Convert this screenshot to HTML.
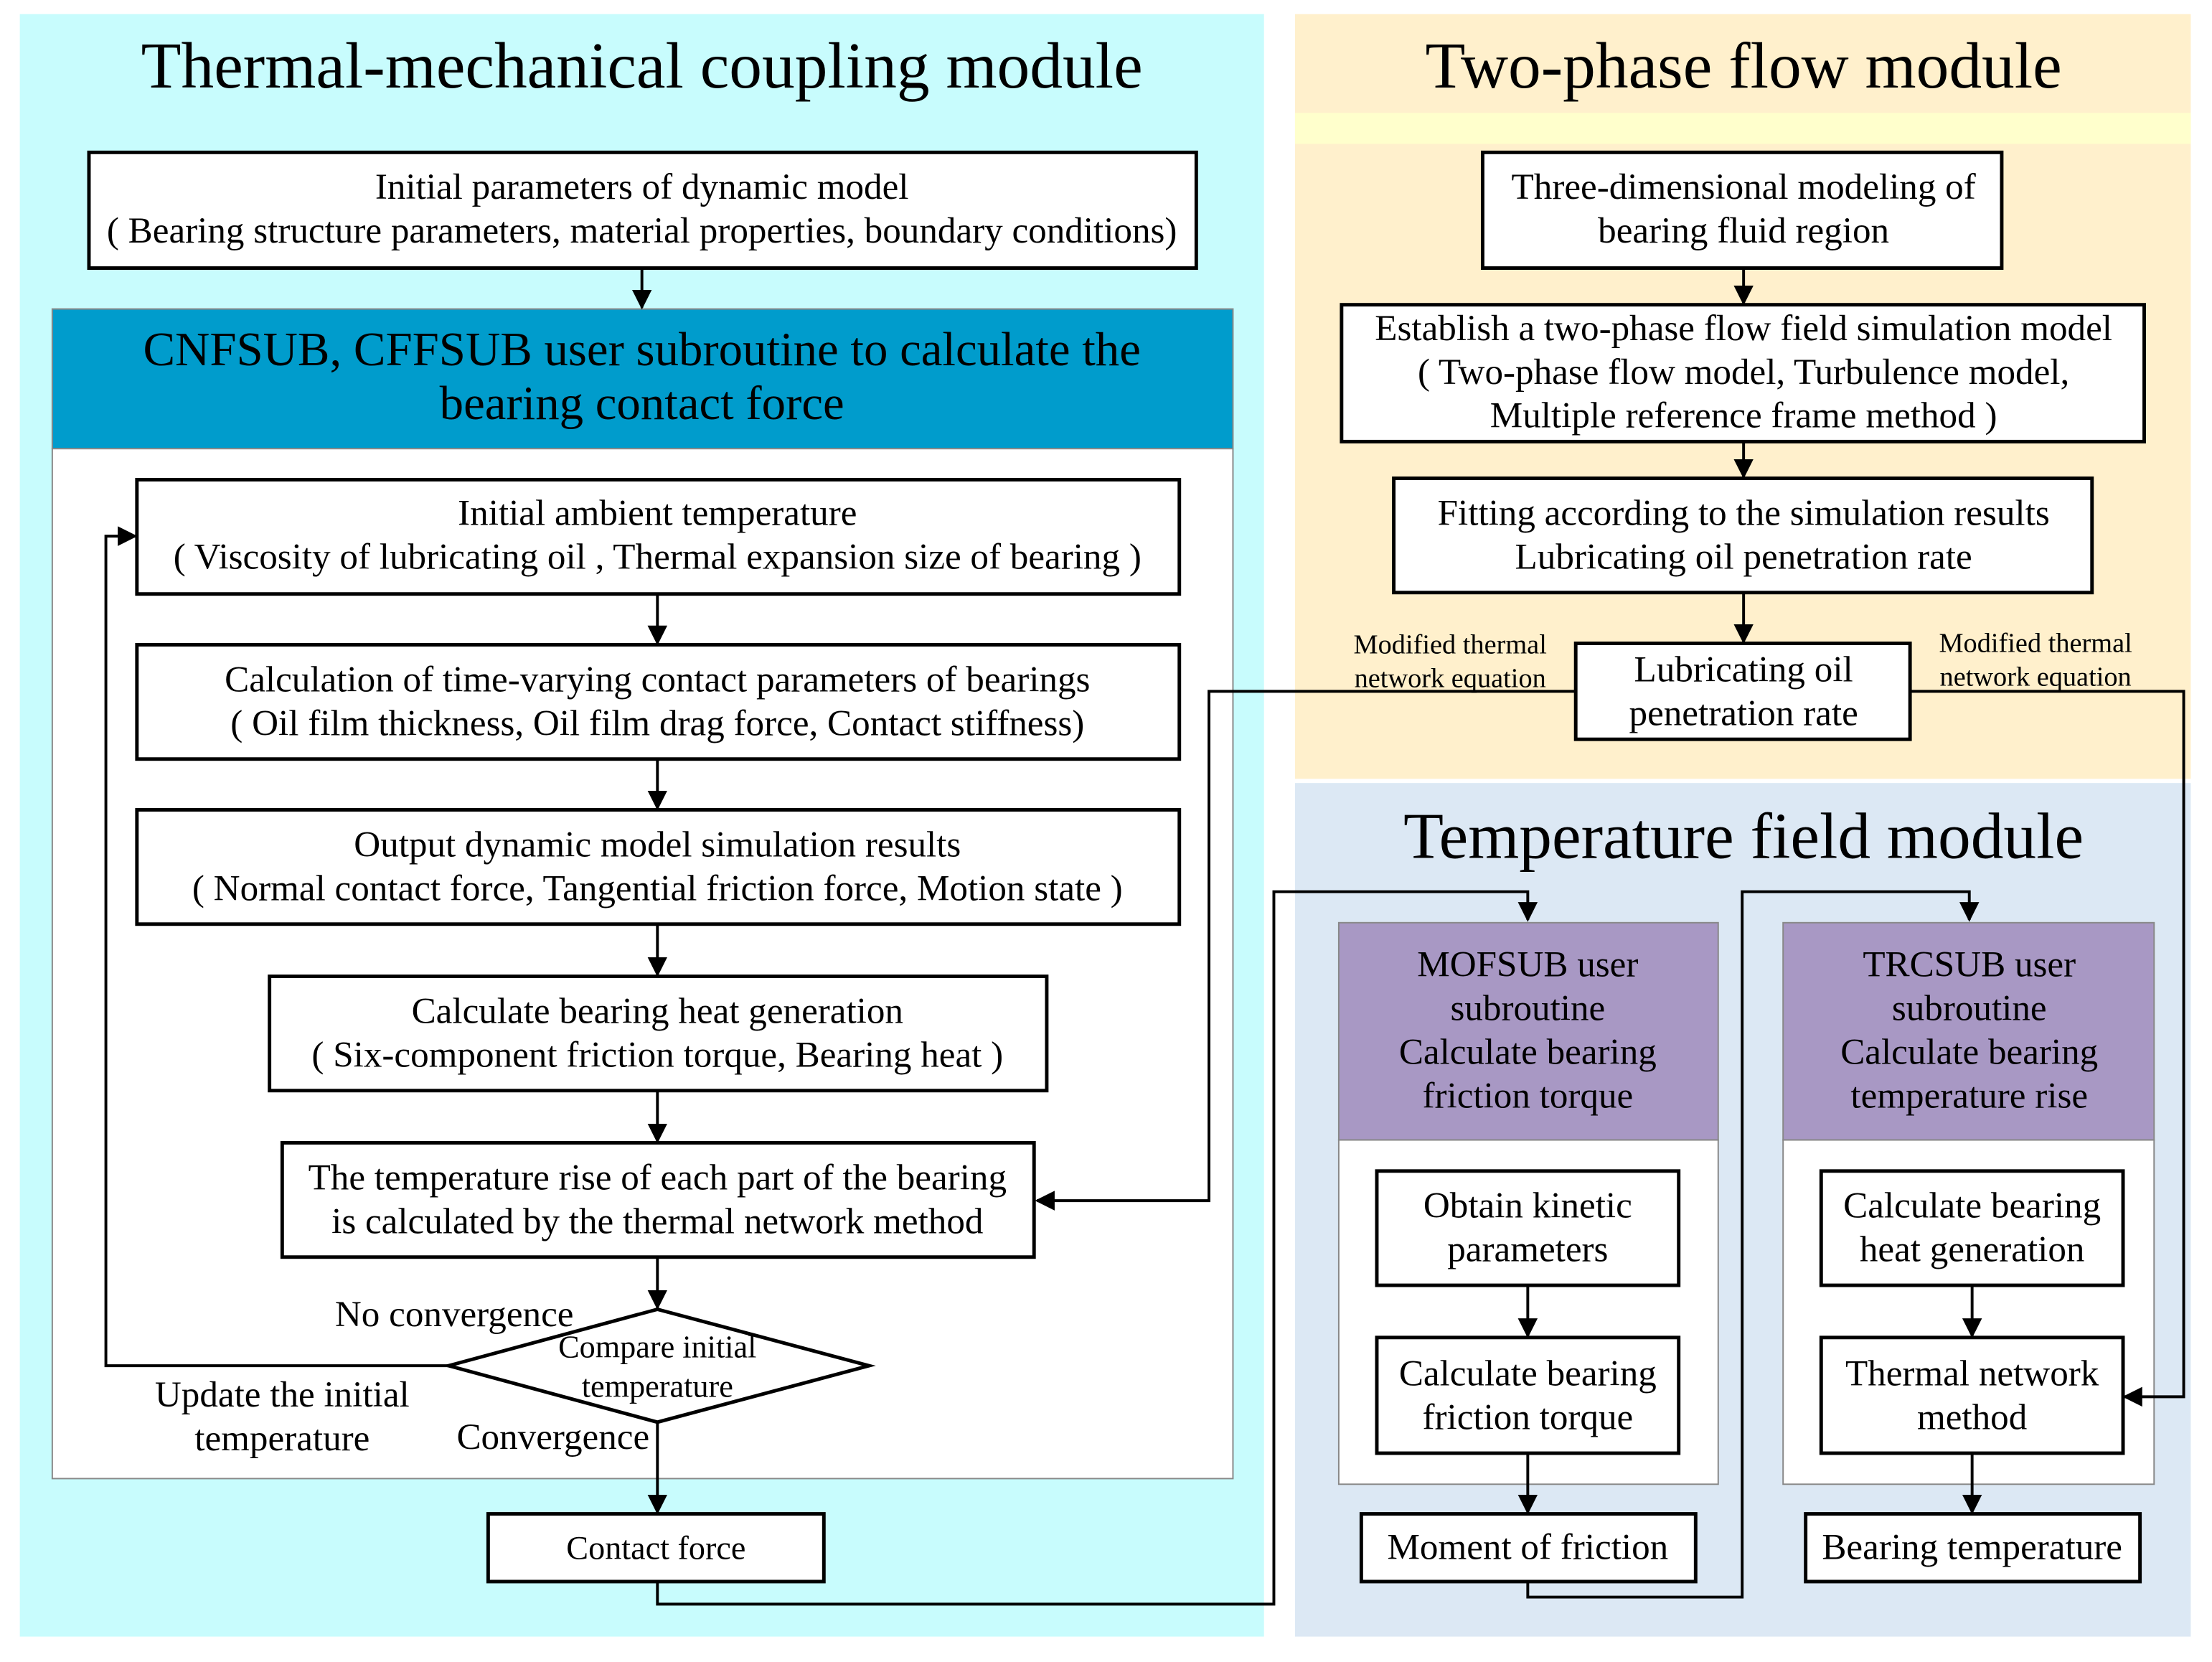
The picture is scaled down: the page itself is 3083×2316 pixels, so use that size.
<!DOCTYPE html>
<html><head><meta charset="utf-8"><style>
html,body{margin:0;padding:0;background:#fff;}
svg{display:block;}
text{font-family:"Liberation Serif",serif;fill:#000;}
</style></head><body>
<svg width="3083" height="2316" viewBox="0 0 1568 1178" xmlns="http://www.w3.org/2000/svg">
<defs><marker id="a" viewBox="0 0 10 10" refX="9" refY="5" markerWidth="14" markerHeight="14" markerUnits="userSpaceOnUse" orient="auto"><path d="M0,0L10,5L0,10z" fill="#000"/></marker></defs>
<rect width="1568" height="1178" fill="#fff"/>
<rect x="14" y="10" width="882" height="1150" fill="#c8fcfd"/>
<rect x="918" y="10" width="635" height="542" fill="#fff0cc"/>
<rect x="918" y="80" width="635" height="22" fill="#ffffcc"/>
<rect x="918" y="555" width="635" height="605" fill="#dce8f4"/>
<g text-anchor="middle">
<text x="455" y="62" font-size="46.5">Thermal-mechanical coupling module</text>
<text x="1236" y="62" font-size="46.5">Two-phase flow module</text>
<text x="1236" y="608" font-size="46.5">Temperature field module</text>
</g>
<g fill="#fff" stroke="#000" stroke-width="2.5">
<rect x="63" y="108" width="785" height="82"/>
</g>
<rect x="37" y="219" width="837" height="99" fill="#009ccc" stroke="#888" stroke-width="1"/>
<rect x="37" y="318" width="837" height="730" fill="#fff" stroke="#888" stroke-width="1"/>
<rect x="949" y="654" width="269" height="154" fill="#a898c4" stroke="#888" stroke-width="1"/>
<rect x="949" y="808" width="269" height="244" fill="#fff" stroke="#888" stroke-width="1"/>
<rect x="1264" y="654" width="263" height="154" fill="#a898c4" stroke="#888" stroke-width="1"/>
<rect x="1264" y="808" width="263" height="244" fill="#fff" stroke="#888" stroke-width="1"/>
<g fill="#fff" stroke="#000" stroke-width="2.5">
<rect x="97" y="340" width="739" height="81"/>
<rect x="97" y="457" width="739" height="81"/>
<rect x="97" y="574" width="739" height="81"/>
<rect x="191" y="692" width="551" height="81"/>
<rect x="200" y="810" width="533" height="81"/>
<polygon points="318,968 466,928 616,968 466,1008"/>
<rect x="346" y="1073" width="238" height="48"/>
<rect x="1051" y="108" width="368" height="82"/>
<rect x="951" y="216" width="569" height="97"/>
<rect x="988" y="339" width="495" height="81"/>
<rect x="1117" y="456" width="237" height="68"/>
<rect x="976" y="830" width="214" height="81"/>
<rect x="976" y="948" width="214" height="82"/>
<rect x="965" y="1073" width="237" height="48"/>
<rect x="1291" y="830" width="214" height="81"/>
<rect x="1291" y="948" width="214" height="82"/>
<rect x="1280" y="1073" width="237" height="48"/>
</g>
<g fill="none" stroke="#000" stroke-width="2" marker-end="url(#a)">
<path d="M455,190V218"/>
<path d="M466,421V456"/>
<path d="M466,538V573"/>
<path d="M466,655V691"/>
<path d="M466,773V809"/>
<path d="M466,891V927"/>
<path d="M466,1008V1072"/>
<path d="M318,968H75V380H96"/>
<path d="M466,1121V1137H903V632H1083V652"/>
<path d="M1083,1121V1132H1235V632H1396V652"/>
<path d="M1117,490H857V851H735"/>
<path d="M1354,490H1548V990H1506"/>
<path d="M1236,190V215"/>
<path d="M1236,313V338"/>
<path d="M1236,420V455"/>
<path d="M1083,911V947"/>
<path d="M1083,1030V1072"/>
<path d="M1398,911V947"/>
<path d="M1398,1030V1072"/>
</g>
<g text-anchor="middle" font-size="26">
<text x="455" y="141">Initial parameters of dynamic model</text>
<text x="455" y="172">( Bearing structure parameters, material properties, boundary conditions)</text>
<text x="455" y="259" font-size="34">CNFSUB, CFFSUB user subroutine to calculate the</text>
<text x="455" y="297" font-size="34">bearing contact force</text>
<text x="466" y="372">Initial ambient temperature</text>
<text x="466" y="403">( Viscosity of lubricating oil , Thermal expansion size of bearing )</text>
<text x="466" y="490">Calculation of time-varying contact parameters of bearings</text>
<text x="466" y="521">( Oil film thickness, Oil film drag force, Contact stiffness)</text>
<text x="466" y="607">Output dynamic model simulation results</text>
<text x="466" y="638">( Normal contact force, Tangential friction force, Motion state  )</text>
<text x="466" y="725">Calculate bearing heat generation</text>
<text x="466" y="756">( Six-component friction torque, Bearing heat )</text>
<text x="466" y="843">The temperature rise of each part of the bearing</text>
<text x="466" y="874">is calculated by the thermal network method</text>
<text x="466" y="962" font-size="22.5">Compare initial</text>
<text x="466" y="990" font-size="22.5">temperature</text>
<text x="322" y="940">No convergence</text>
<text x="200" y="997">Update the initial</text>
<text x="200" y="1028">temperature</text>
<text x="392" y="1027">Convergence</text>
<text x="465" y="1105" font-size="23.5">Contact force</text>
<text x="1236" y="141">Three-dimensional modeling of</text>
<text x="1236" y="172">bearing fluid region</text>
<text x="1236" y="241">Establish a two-phase flow field simulation model</text>
<text x="1236" y="272">( Two-phase flow model, Turbulence model,</text>
<text x="1236" y="303">Multiple reference frame method )</text>
<text x="1236" y="372">Fitting according to the simulation results</text>
<text x="1236" y="403">Lubricating oil penetration rate</text>
<text x="1236" y="483">Lubricating oil</text>
<text x="1236" y="514">penetration rate</text>
<text x="1028" y="463" font-size="19.5">Modified thermal</text>
<text x="1028" y="487" font-size="19.5">network equation</text>
<text x="1443" y="462" font-size="19.5">Modified thermal</text>
<text x="1443" y="486" font-size="19.5">network equation</text>
<text x="1083" y="692">MOFSUB user</text>
<text x="1083" y="723">subroutine</text>
<text x="1083" y="754">Calculate bearing</text>
<text x="1083" y="785">friction torque</text>
<text x="1396" y="692">TRCSUB user</text>
<text x="1396" y="723">subroutine</text>
<text x="1396" y="754">Calculate bearing</text>
<text x="1396" y="785">temperature rise</text>
<text x="1083" y="863">Obtain kinetic</text>
<text x="1083" y="894">parameters</text>
<text x="1083" y="982">Calculate bearing</text>
<text x="1083" y="1013">friction torque</text>
<text x="1083" y="1105">Moment of friction</text>
<text x="1398" y="863">Calculate bearing</text>
<text x="1398" y="894">heat generation</text>
<text x="1398" y="982">Thermal network</text>
<text x="1398" y="1013">method</text>
<text x="1398" y="1105">Bearing temperature</text>
</g>
</svg>
</body></html>
